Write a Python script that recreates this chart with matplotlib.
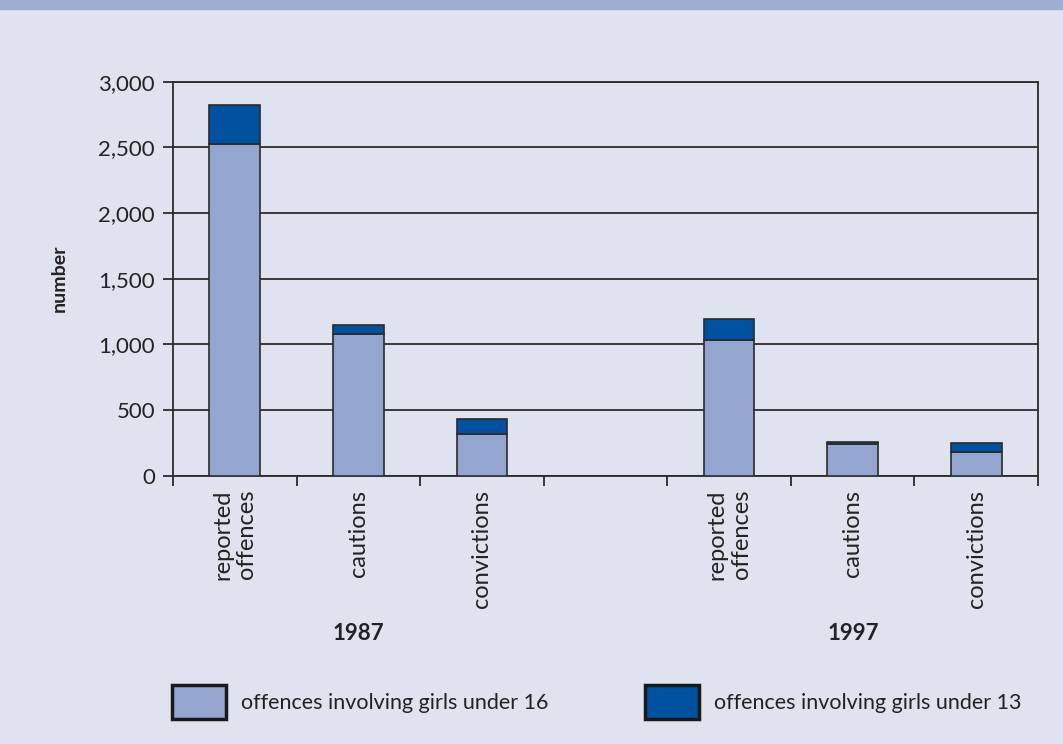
import numpy as np
import matplotlib.pyplot as plt
from matplotlib.patches import Patch

plt.rcParams['font.family'] = ['Lato', 'DejaVu Sans']

# data
categorias = ['reported\noffences', 'cautions', 'convictions', '',
              'reported\noffences', 'cautions', 'convictions']
menores16 = [2525, 1080, 320, 0, 1035, 245, 180]
menores13 = [295, 70, 110, 0, 160, 10, 70]
anios = ['1987', '1997']
leyendas = ['offences involving girls under 16', 'offences involving girls under 13']

fondo = '#dee3ef'
claro = '#94a6d0'
oscuro = '#0052a0'
borde = '#2b2b2b'

fig = plt.figure(figsize=(10.63, 7.44), dpi=100, facecolor=fondo)
fig.patches.append(plt.Rectangle((0, 1 - 9 / 744), 1, 9 / 744, transform=fig.transFigure,
                                 color='#a0aed6', zorder=0))
ax = fig.add_axes([173 / 1063, 1 - 475.7 / 744, 865 / 1063, 394 / 744])
ax.set_facecolor(fondo)

pos = np.arange(len(categorias)) + 0.5
usar = [i for i in range(len(categorias)) if categorias[i] != '']
x = pos[usar]
a = np.array(menores16)[usar]
b = np.array(menores13)[usar]

ax.bar(x, a, width=0.41, color=claro, edgecolor=borde, linewidth=1.2, zorder=3)
ax.bar(x, b, bottom=a, width=0.41, color=oscuro, edgecolor=borde, linewidth=1.2, zorder=3)

ax.set_xlim(0, len(categorias))
ax.set_ylim(0, 3000)
ax.set_yticks(np.arange(0, 3001, 500))
ax.set_yticklabels(['{:,}'.format(v) for v in range(0, 3001, 500)], fontsize=16, color='#222222')
ax.yaxis.grid(True, color=borde, linewidth=1.3, zorder=0)
ax.set_axisbelow(True)

ax.set_xticks(np.arange(0, len(categorias) + 1))
ax.set_xticklabels([])
ax.set_xticks(pos, minor=True)
ax.set_xticklabels(categorias, minor=True, rotation=90, va='top', ha='center',
                   multialignment='right', fontsize=17, color='#222222', linespacing=1.2)
ax.tick_params(axis='x', which='minor', length=0, pad=10)
ax.tick_params(axis='x', which='major', length=7, width=1.3, color=borde, direction='out')
ax.tick_params(axis='y', length=7, width=1.3, color=borde, pad=6)
for s in ax.spines.values():
    s.set_color(borde)
    s.set_linewidth(1.3)

ax.set_ylabel('number', fontsize=14, fontweight='bold', color='#222222', labelpad=22)

for i, anio in enumerate(anios):
    fig.text((173 + (1.5 + 4 * i) * 123.6) / 1063, 1 - 633 / 744, anio,
             ha='center', va='center', fontsize=16, fontweight='bold', color='#222222')

for i, (etq, col) in enumerate(zip(leyendas, [claro, oscuro])):
    fig.legend(handles=[Patch(facecolor=col, edgecolor='#1a1a1a', linewidth=2.5)], labels=[etq],
               loc='center left', bbox_to_anchor=([153, 626][i] / 1063, 1 - 702 / 744),
               frameon=False, fontsize=15.5, handlelength=2.5, handleheight=2.05,
               handletextpad=0.7, labelcolor='#222222')

fig.savefig('out.png', dpi=100, facecolor=fondo)
